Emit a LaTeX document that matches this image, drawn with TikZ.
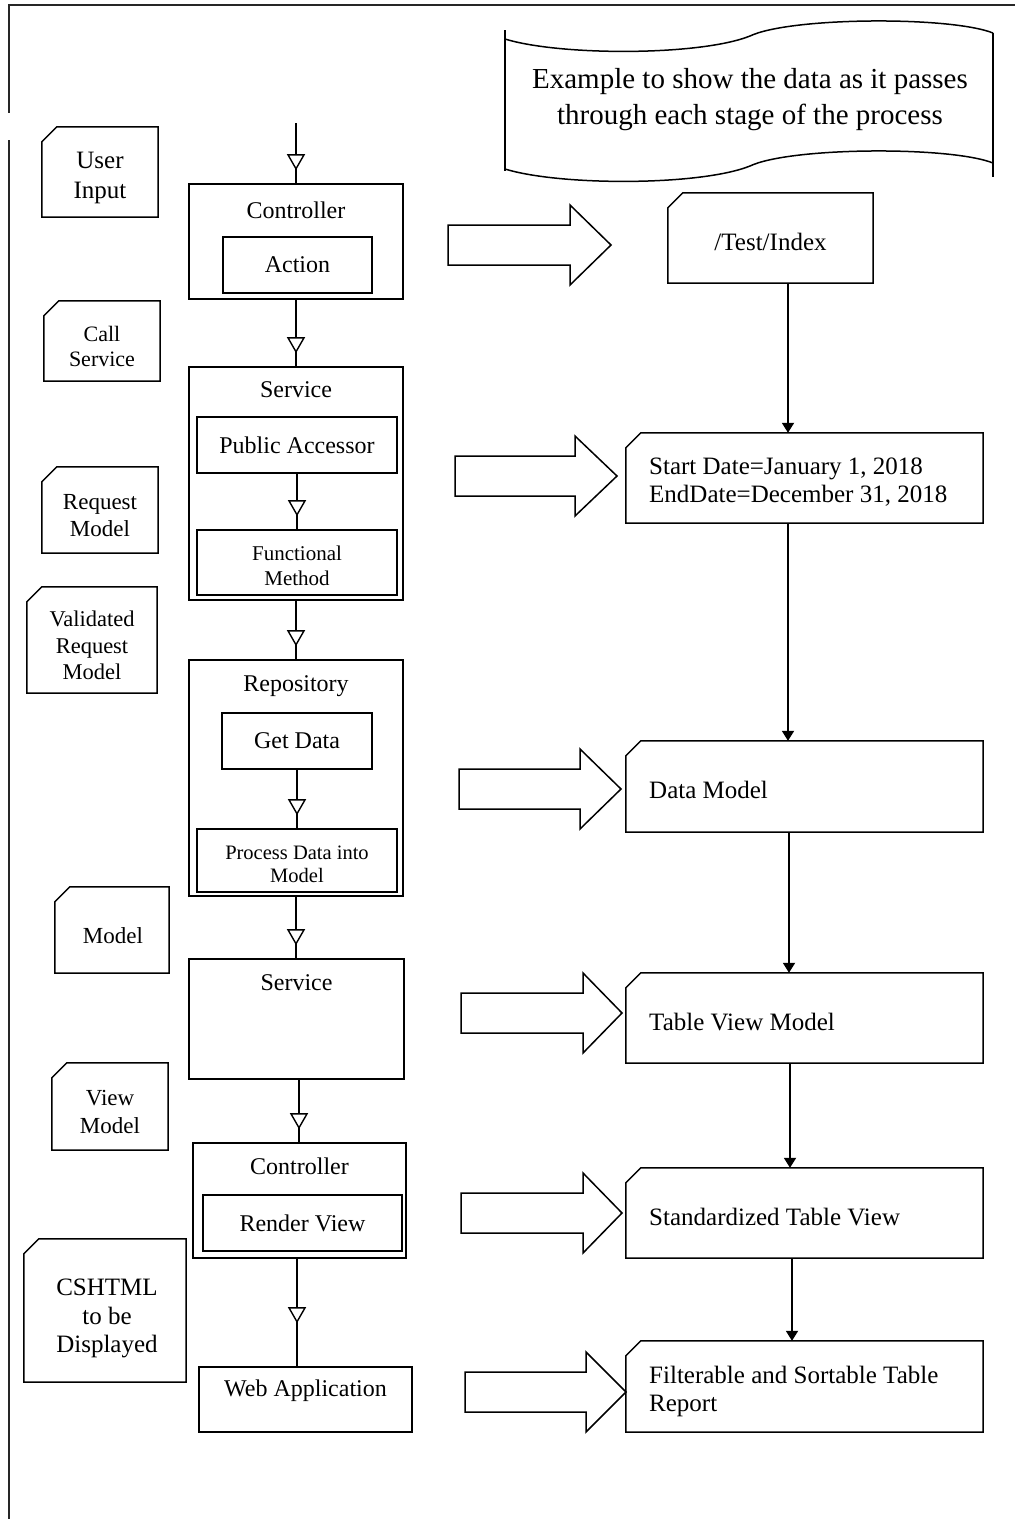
\documentclass[tikz,border=0pt]{standalone}
\usepackage{fontspec}
\setmainfont{Liberation Serif}
\usetikzlibrary{arrows.meta,decorations.markings,calc}
\newcommand\fs[2]{\fontsize{#1}{#2}\selectfont}
\newcommand\cardpath[1]{\draw[line width=1.5pt,line join=miter] ([yshift=-15pt]#1.north west) -- ([xshift=15pt]#1.north west) -- (#1.north east) -- (#1.south east) -- (#1.south west) -- cycle;}
\newcommand\blockarrow[4]{\draw[line width=1.5pt,line join=miter] (#1,#4-20) -- (#2,#4-20) -- (#2,#4-40) -- (#3,#4) -- (#2,#4+40) -- (#2,#4+20) -- (#1,#4+20) -- cycle;}
\begin{document}
\begin{tikzpicture}[x=1pt,y=-1pt,
  box/.style={draw, line width=1.6pt, inner sep=0pt, align=center},
  shape only/.style={inner sep=0pt},
  txt/.style={inner sep=0pt, align=center},
  ttl/.style={inner sep=0pt, font=\fs{24}{28}},
  rtext/.style={inner sep=0pt, anchor=west, align=left, font=\fs{25}{28}},
  flow/.style={line width=1.8pt, postaction={decorate},
    decoration={markings, mark=at position #1 with {\arrow{Triangle[fill=white,width=18pt,length=16pt,line width=1.4pt]}}}},
  flow/.default=-13pt,
  link/.style={line width=1.8pt, -{Triangle[width=12pt,length=10pt]}},
]
\useasboundingbox (0,0) rectangle (1015,1519);
\fill[white] (0,0) rectangle (1015,1519);
% frame
\draw[line width=2pt, black!85] (8,5) -- (1015,5);
\draw[line width=2pt, black!85] (9,4) -- (9,113);
\draw[line width=2pt, black!85] (9,140) -- (9,1519);

% punched tape note
\draw[line width=1.5pt] (505,30) -- (505,171);
\draw[line width=1.5pt] (993,33) -- (993,177);
\draw[line width=1.5pt] (505,39) .. controls (560,56) and (700,56) .. (750,36) .. controls (790,17) and (950,16) .. (993,33);
\draw[line width=1.5pt] (505,169) .. controls (560,186) and (700,186) .. (750,166) .. controls (790,147) and (950,146) .. (993,163);
\node[txt, font=\fs{29}{36}] (note) at (750,100) {Example to show the data as it passes\\through each stage of the process};

% left cards
\node[shape only, minimum width=116pt, minimum height=90pt] (ui) at (100,172) {};
\cardpath{ui}
\node[txt, font=\fs{25}{30}] (uit) at (100,178) {User\\Input};
\node[shape only, minimum width=116pt, minimum height=80pt] (cs) at (102,341) {};
\cardpath{cs}
\node[txt, font=\fs{22}{25}] (cst) at (102,346) {Call\\Service};
\node[shape only, minimum width=116pt, minimum height=86pt] (rm) at (100,510) {};
\cardpath{rm}
\node[txt, font=\fs{23}{27}] (rmt) at (100,516) {Request\\Model};
\node[shape only, minimum width=130pt, minimum height=106pt] (vrm) at (92,640) {};
\cardpath{vrm}
\node[txt, font=\fs{22.5}{26.5}] (vrmt) at (92,645.5) {Validated\\Request\\Model};
\node[shape only, minimum width=114pt, minimum height=86pt] (mdl) at (112,930) {};
\cardpath{mdl}
\node[txt, font=\fs{23}{27}] (mdlt) at (113,936) {Model};
\node[shape only, minimum width=116pt, minimum height=87pt] (vm) at (110,1106.5) {};
\cardpath{vm}
\node[txt, font=\fs{23}{28}] (vmt) at (110,1112) {View\\Model};
\node[shape only, minimum width=162pt, minimum height=143pt] (csh) at (105,1310.5) {};
\cardpath{csh}
\node[txt, font=\fs{25}{28.5}] (csht) at (107,1318.5) {CSHTML\\to be\\Displayed};

% middle column
\node[box, minimum width=214pt, minimum height=115pt] (ctrl1) at (296,241.5) {};
\node[ttl] (ctrl1t) at (296,210) {Controller};
\node[box, minimum width=149pt, minimum height=56pt, font=\fs{24}{28}] (act) at (297.5,265) {Action};

\node[box, minimum width=214pt, minimum height=233pt] (svc1) at (296,483.5) {};
\node[ttl] (svc1t) at (296,390) {Service};
\node[box, minimum width=200pt, minimum height=56pt, font=\fs{24}{28}] (pub) at (297,445) {Public Accessor};
\node[box, minimum width=200pt, minimum height=65pt] (fun) at (297,562.5) {};
\node[txt, font=\fs{21}{25}] (funt) at (297,565.5) {Functional\\Method};

\node[box, minimum width=214pt, minimum height=236pt] (repo) at (296,778) {};
\node[ttl] (repot) at (296,686) {Repository};
\node[box, minimum width=150pt, minimum height=56pt, font=\fs{24}{28}] (get) at (297,741) {Get Data};
\node[box, minimum width=200pt, minimum height=63pt] (proc) at (297,860.5) {};
\node[txt, font=\fs{20.5}{23}] (proct) at (297,864.5) {Process Data into\\Model};

\node[box, minimum width=215pt, minimum height=120pt] (svc2) at (296.5,1019) {};
\node[ttl] (svc2t) at (296.5,983) {Service};

\node[box, minimum width=213pt, minimum height=115pt] (ctrl2) at (299.5,1200.5) {};
\node[ttl] (ctrl2t) at (299.5,1166) {Controller};
\node[box, minimum width=199pt, minimum height=56pt, font=\fs{24}{28}] (rend) at (302.5,1223) {Render View};

\node[box, minimum width=213pt, minimum height=65pt] (web) at (305.5,1399.5) {};
\node[ttl] (webt) at (305.5,1391) {Web Application};

\coordinate (start) at (296,123);
\draw[flow] (start) -- (start |- ctrl1.north);
\draw[flow] (ctrl1.south) -- (svc1.north);
\draw[flow] (pub.south) -- (fun.north);
\draw[flow] (svc1.south) -- (repo.north);
\draw[flow] (get.south) -- (get.south |- proc.north);
\draw[flow] (repo.south) -- (repo.south |- svc2.north);
\draw[flow] ([xshift=2.5pt]svc2.south) -- ([xshift=2.5pt]svc2.south |- ctrl2.north);
\draw[flow=-43pt] ([xshift=-2.5pt]ctrl2.south) -- ([xshift=-2.5pt]ctrl2.south |- web.north);

% right column
\node[shape only, minimum width=205pt, minimum height=90pt] (test) at (770.5,238) {};
\cardpath{test}
\node[inner sep=0pt, font=\fs{25}{28}] (testt) at (770.5,242) {/Test/Index};

\node[shape only, minimum width=357pt, minimum height=90pt] (sd) at (804.5,478) {};
\cardpath{sd}
\node[rtext] (sdt) at (649,482) {Start Date=January 1, 2018\\EndDate=December 31, 2018};

\node[shape only, minimum width=357pt, minimum height=91pt] (dm) at (804.5,786.5) {};
\cardpath{dm}
\node[rtext] (dmt) at (649,790) {Data Model};

\node[shape only, minimum width=357pt, minimum height=90pt] (tvm) at (804.5,1018) {};
\cardpath{tvm}
\node[rtext] (tvmt) at (649,1022) {Table View Model};

\node[shape only, minimum width=357pt, minimum height=90pt] (std) at (804.5,1213) {};
\cardpath{std}
\node[rtext] (stdt) at (649,1217) {Standardized Table View};

\node[shape only, minimum width=357pt, minimum height=91pt] (flt) at (804.5,1386.5) {};
\cardpath{flt}
\node[rtext] (fltt) at (649,1391) {Filterable and Sortable Table\\Report};

\draw[link] ([xshift=17.5pt]test.south) -- ([xshift=17.5pt]test.south |- sd.north);
\draw[link] ([xshift=-16.5pt]sd.south) -- ([xshift=-16.5pt]dm.north);
\draw[link] ([xshift=-15.5pt]dm.south) -- ([xshift=-15.5pt]tvm.north);
\draw[link] ([xshift=-14.5pt]tvm.south) -- ([xshift=-14.5pt]std.north);
\draw[link] ([xshift=-12.5pt]std.south) -- ([xshift=-12.5pt]flt.north);

% block arrows
\blockarrow{448}{570}{611}{245}
\blockarrow{455}{575}{617}{476}
\blockarrow{459}{580}{621}{789}
\blockarrow{461}{583}{622}{1013}
\blockarrow{461}{583}{622}{1213}
\blockarrow{465}{586}{626}{1392}
\end{tikzpicture}
\end{document}
